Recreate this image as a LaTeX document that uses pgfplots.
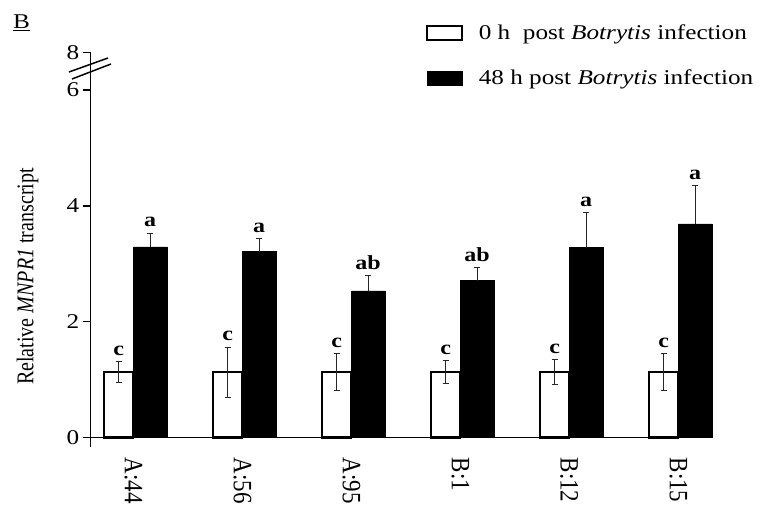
\documentclass[border=0pt]{standalone}
\usepackage{fontspec}
\setmainfont{Liberation Serif}[FakeStretch=1.2]
\newfontfamily\plainserif{Liberation Serif}
\usepackage{pgfplots}
\pgfplotsset{compat=1.18}
\newcommand{\xl}[1]{\scalebox{1}[1.15]{\plainserif\fontsize{23}{26}\selectfont #1}}
\begin{document}
\begin{tikzpicture}
\useasboundingbox (-90.5pt,-66.5pt) rectangle (674.5pt,437.5pt);
\begin{axis}[
  scale only axis, width=621.8pt, height=385.2pt,
  xmin=-0.393, xmax=5.312, ymin=0, ymax=6.65,
  axis x line*=bottom, axis y line*=left,
  axis line style={line width=1.5pt, -},
  ytick={0,2,4,6,6.65}, yticklabels={0,2,4,6,8},
  xtick={0,1,2,3,4,5},
  xticklabels={\xl{A:44},\xl{A:56},\xl{A:95},\xl{B:1},\xl{B:12},\xl{B:15}},
  tick align=outside, major tick length=7pt,
  y tick style={line width=1.5pt, black},
  x tick style={draw=none},
  xticklabel style={rotate=-90, anchor=west, inner sep=0pt},
  xticklabel shift=13pt,
  yticklabel style={font=\fontsize{21}{24}\selectfont, inner sep=0pt, xshift=-4pt},
  ylabel={\scalebox{1}[1.2]{\plainserif\fontsize{20}{24}\selectfont Relative \textit{MNPR1} transcript}},
  every axis y label/.style={at={(axis description cs:-0.1013,0.418)}, rotate=90, anchor=center},
  clip=false,
  legend cell align=left,
  legend style={at={(0.5396,1.072)}, anchor=north west, draw=none, fill=none,
    inner sep=0pt, font=\fontsize{21}{25}\selectfont,
    row sep=29pt,
    nodes={inner sep=0pt},
    /tikz/every odd column/.append style={column sep=16pt}},
]
\addplot[ybar, bar width=0.269, bar shift=0pt, fill=white, draw=black, line width=2.2pt,
  legend image code/.code={\draw[fill=white, draw=black, line width=1.6pt] (0pt,-7pt) rectangle (35pt,7pt);},
  error bars/.cd, y dir=both, y explicit,
  error bar style={line width=0.8pt, black!85},
  error mark options={rotate=90, line width=0.8pt, mark size=3pt, black!85}]
coordinates {
  (-0.134,1.13) +- (0,0.18)
  (0.866,1.13) +- (0,0.43)
  (1.866,1.13) +- (0,0.32)
  (2.866,1.13) +- (0,0.20)
  (3.866,1.13) +- (0,0.21)
  (4.866,1.13) +- (0,0.315)
};
\addlegendentry{0 h\ \ post \textit{Botrytis} infection}
\addplot[ybar, bar width=0.309, bar shift=0pt, fill=black, draw=black, line width=0.5pt,
  legend image code/.code={\fill[black] (0pt,-7pt) rectangle (35pt,7pt);},
  error bars/.cd, y dir=plus, y explicit,
  error bar style={line width=0.8pt, black!85},
  error mark options={rotate=90, line width=0.8pt, mark size=3pt, black!85}]
coordinates {
  (0.1546,3.29) +- (0,0.24)
  (1.1546,3.21) +- (0,0.225)
  (2.1546,2.53) +- (0,0.26)
  (3.1546,2.71) +- (0,0.225)
  (4.1546,3.28) +- (0,0.60)
  (5.1546,3.69) +- (0,0.655)
};
\addlegendentry{48 h post \textit{Botrytis} infection}
\addplot[forget plot, draw=none,
  nodes near coords, point meta=explicit symbolic,
  nodes near coords style={anchor=south, font=\fontsize{20}{22}\selectfont\bfseries, inner sep=1pt, yshift=5pt}]
coordinates {
  (-0.134,1.31) [c] (0.866,1.56) [c] (1.866,1.45) [c]
  (2.866,1.33) [c] (3.866,1.34) [c] (4.866,1.445) [c]
  (0.1546,3.53) [a] (1.1546,3.435) [a] (2.1546,2.79) [ab]
  (3.1546,2.935) [ab] (4.1546,3.88) [a] (5.1546,4.345) [a]
};
\end{axis}
\draw[line width=1.5pt] (0,0) -- (0,-9pt);
\draw[line width=1.5pt] (-21.5pt,365.5pt) -- (17.5pt,379.5pt);
\draw[line width=1.5pt] (-18.5pt,358.5pt) -- (20.5pt,373.5pt);
\node[anchor=base west, inner sep=0pt, font=\fontsize{21}{24}\selectfont] at (-77.5pt,408.5pt) {\underline{B}};
\end{tikzpicture}
\end{document}
